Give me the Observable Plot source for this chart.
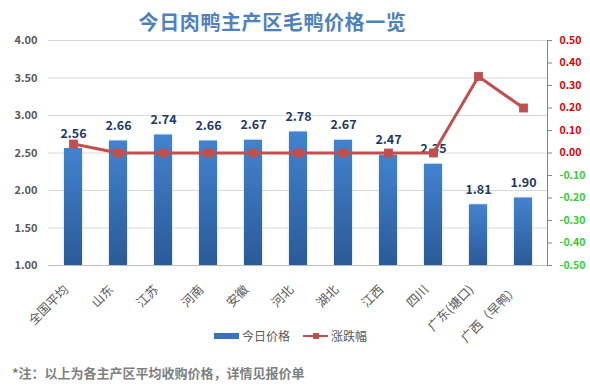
<!DOCTYPE html>
<html>
<head>
<meta charset="utf-8">
<script src="https://cdn.jsdelivr.net/npm/d3@7"></script>
<script src="https://cdn.jsdelivr.net/npm/@observablehq/plot@0.6"></script>
<style>
  html, body { margin: 0; padding: 0; background: #fff; }
  #wrap { position: relative; width: 590px; height: 389px; font-family: "Noto Sans CJK SC", sans-serif; }
  #title { position: absolute; left: 0; width: 545px; top: 9px; text-align: center; font-size: 20px; letter-spacing: 0.6px; font-weight: bold; color: #4f81bd; line-height: 26px; }
  #chart { position: absolute; left: 0; top: 0; }
  .leg { position: absolute; font-size: 12px; color: #595959; line-height: 16px; }
  #note { position: absolute; left: 12px; top: 364px; font-size: 13px; font-weight: bold; color: #7f7f7f; line-height: 18px; }
  g[aria-label="bar"] rect { filter: url(#glow); }
</style>
</head>
<body>
<svg width="0" height="0" style="position:absolute">
  <defs>
    <linearGradient id="barGrad" x1="0" y1="0" x2="0" y2="1">
      <stop offset="0" stop-color="#4283cf"/>
      <stop offset="1" stop-color="#2b5a98"/>
    </linearGradient>
    <filter id="glow" x="-30%" y="-10%" width="160%" height="120%">
      <feDropShadow dx="0" dy="0" stdDeviation="1.2" flood-color="#9dc3e6" flood-opacity="0.7"/>
    </filter>
  </defs>
</svg>
<div id="wrap">
  <div id="chart"></div>
  <div id="title">今日肉鸭主产区毛鸭价格一览</div>
  <div id="legend"></div>
  <div id="note">*注：以上为各主产区平均收购价格，详情见报价单</div>
</div>
<script>
const categories = ["全国平均","山东","江苏","河南","安徽","河北","湖北","江西","四川","广东(塘口)","广西（早鸭）"];
const prices = [2.56, 2.66, 2.74, 2.66, 2.67, 2.78, 2.67, 2.47, 2.35, 1.81, 1.90];
const changes = [0.04, 0.00, 0.00, 0.00, 0.00, 0.00, 0.00, 0.00, 0.00, 0.34, 0.20];
const leftTicks = [1.0, 1.5, 2.0, 2.5, 3.0, 3.5, 4.0];
const rightTicks = [-0.5, -0.4, -0.3, -0.2, -0.1, 0.0, 0.1, 0.2, 0.3, 0.4, 0.5];
const seriesNames = ["今日价格", "涨跌幅"];

// right axis (-0.5..0.5) mapped onto the left price domain (1..4)
const toPrice = c => 2.5 + c * 3;
const rows = categories.map((name, i) => ({name, price: prices[i], change: changes[i]}));

const barColor = "#3a74bd";
const lineColor = "#c0504d";

const chart = Plot.plot({
  width: 590,
  height: 389,
  marginTop: 40,
  marginBottom: 124,
  marginLeft: 48,
  marginRight: 43,
  style: {fontFamily: "'Noto Sans CJK SC', sans-serif", background: "transparent", overflow: "visible"},
  x: {domain: categories, paddingInner: 0.6, paddingOuter: 0.3, label: null},
  y: {domain: [1, 4], label: null},
  color: {type: "identity"},
  marks: [
    Plot.gridY(leftTicks, {stroke: "#d9d9d9", strokeOpacity: 1}),
    Plot.ruleY([1], {stroke: "#bfbfbf"}),
    Plot.axisY(leftTicks, {tickSize: 0, tickPadding: 11, tickFormat: d => d.toFixed(2), fill: "#595959", fontSize: 11, fontWeight: "bold", label: null}),
    Plot.axisX({tickSize: 0, tickRotate: -45, tickPadding: 10, dx: -7, dy: 12, fontSize: 12.5, fill: "#595959", label: null}),
    Plot.barY(rows, {x: "name", y1: 1, y2: "price", fill: "url(#barGrad)"}),
    Plot.text(rows, {x: "name", y: "price", text: d => d.price.toFixed(2), dy: -15, fontWeight: "bold", fontSize: 12.5, fill: "#1f3864"}),
    Plot.line(rows, {x: "name", y: d => toPrice(d.change), stroke: lineColor, strokeWidth: 3}),
    Plot.dot(rows, {x: "name", y: d => toPrice(d.change), symbol: "square", r: 5, fill: lineColor, stroke: "none"}),
    Plot.frame({anchor: "right", stroke: "#868686"}),
    Plot.axisY(rightTicks.map(toPrice), {anchor: "right", tickSize: 4, tickFormat: () => "", stroke: "#868686", label: null}),
    Plot.text(rightTicks, {y: toPrice, text: d => d.toFixed(2), frameAnchor: "right", dx: 12, textAnchor: "start",
      fill: d => d < 0 ? "#33cc33" : "#e00000", fontWeight: "bold", fontSize: 10.5})
  ]
});
document.getElementById("chart").appendChild(chart);

// legend
const leg = document.getElementById("legend");
leg.innerHTML = `
  <div style="position:absolute;left:214px;top:333px;width:25px;height:6px;background:${barColor}"></div>
  <div class="leg" style="left:242px;top:328px">${seriesNames[0]}</div>
  <div style="position:absolute;left:303px;top:335px;width:25px;height:2px;background:${lineColor}"></div>
  <div style="position:absolute;left:313px;top:333px;width:6px;height:6px;background:${lineColor}"></div>
  <div class="leg" style="left:331px;top:328px">${seriesNames[1]}</div>
`;
</script>
</body>
</html>
